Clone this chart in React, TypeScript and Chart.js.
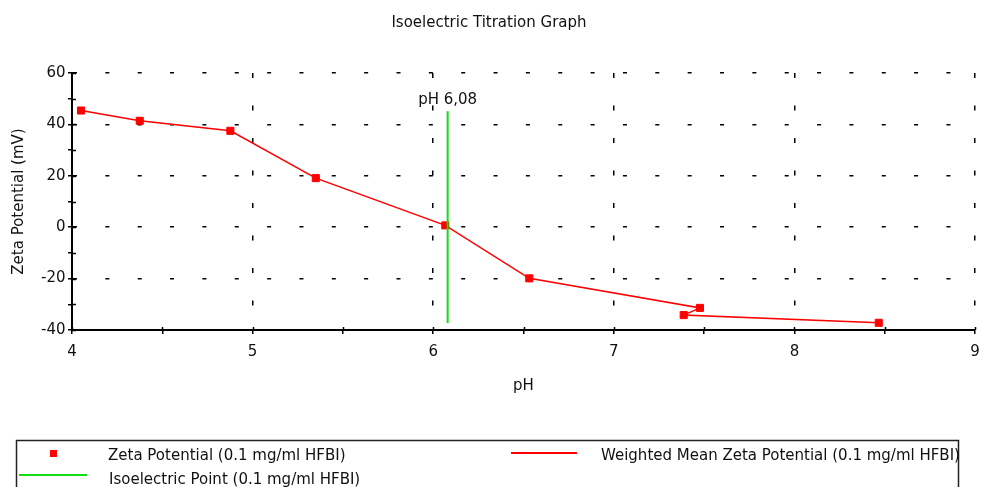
import React, { useEffect, useRef } from 'react';
import { Chart, registerables } from 'chart.js';

Chart.register(...registerables);

const chartTitle = 'Isoelectric Titration Graph';
const xAxisTitle = 'pH';
const yAxisTitle = 'Zeta Potential (mV)';

const pointsLabel = 'Zeta Potential (0.1 mg/ml HFBI)';
const meanLabel = 'Weighted Mean Zeta Potential (0.1 mg/ml HFBI)';
const isoLabel = 'Isoelectric Point (0.1 mg/ml HFBI)';

// measured points (pH, zeta potential mV), in measurement order
const phValues = [4.05, 4.375, 4.877, 5.35, 6.067, 6.532, 7.477, 7.387, 8.467];
const zetaValues = [45.4, 41.4, 37.5, 19.1, 0.7, -19.9, -31.4, -34.2, -37.2];

// isoelectric point marker
const isoelectricPH = 6.08;
const isoelectricText = 'pH 6,08';
const isoelectricSpan = [45.1, -37.3];

const xMin = 4;
const xMax = 9;
const xStep = 0.5;
const yMin = -40;
const yMax = 60;
const yStep = 10;
const yLabelEvery = 20;

const FONT = 'DejaVu Sans';
const RED = '#ff0000';
const GREEN = '#11dd11';
const TEXT = '#111';

const innerTicksPlugin = {
  id: 'innerTicks',
  afterDraw(chart: any) {
    const { ctx, chartArea } = chart;
    const xs = chart.scales.x;
    const ys = chart.scales.y;
    ctx.save();
    ctx.strokeStyle = '#000';
    ctx.lineWidth = 1.5;
    ctx.beginPath();
    xs.ticks.forEach((t: any) => {
      const px = Math.round(xs.getPixelForValue(t.value)) + 0.5;
      ctx.moveTo(px, chartArea.bottom);
      ctx.lineTo(px, chartArea.bottom - 3);
    });
    ys.ticks.forEach((t: any) => {
      const py = Math.round(ys.getPixelForValue(t.value)) + 0.5;
      ctx.moveTo(chartArea.left, py);
      ctx.lineTo(chartArea.left + 4, py);
    });
    ctx.stroke();
    ctx.restore();
  },
};

const isoLabelPlugin = {
  id: 'isoLabel',
  afterDatasetsDraw(chart: any) {
    const { ctx } = chart;
    const x = chart.scales.x.getPixelForValue(isoelectricPH);
    const yTop = chart.scales.y.getPixelForValue(isoelectricSpan[0]);
    ctx.save();
    ctx.font = `15px "${FONT}"`;
    ctx.fillStyle = TEXT;
    ctx.textAlign = 'center';
    ctx.textBaseline = 'alphabetic';
    ctx.fillText(isoelectricText, x, yTop - 7.5);
    ctx.restore();
  },
};

const customLegendPlugin = {
  id: 'customLegend',
  afterDraw(chart: any) {
    const { ctx } = chart;
    const ds = chart.data.datasets;
    const iso = ds[0];
    const pts = ds[1];
    const mean = ds[2];
    ctx.save();
    ctx.strokeStyle = '#222';
    ctx.lineWidth = 1.5;
    ctx.strokeRect(16.5, 440.5, 942, 80);
    ctx.font = `15px "${FONT}"`;
    ctx.fillStyle = TEXT;
    ctx.textAlign = 'left';
    ctx.textBaseline = 'alphabetic';

    // row 1 left: points
    ctx.fillStyle = pts.pointBackgroundColor;
    ctx.fillRect(50, 450, 7, 7);
    ctx.fillStyle = TEXT;
    ctx.fillText(pts.label, 108, 459.5);

    // row 1 right: mean line
    ctx.strokeStyle = mean.borderColor;
    ctx.lineWidth = 2;
    ctx.beginPath();
    ctx.moveTo(511, 453);
    ctx.lineTo(577, 453);
    ctx.stroke();
    ctx.fillText(mean.label, 601, 459.5);

    // row 2 left: isoelectric point
    ctx.strokeStyle = iso.borderColor;
    ctx.lineWidth = 2;
    ctx.beginPath();
    ctx.moveTo(19, 475);
    ctx.lineTo(87, 475);
    ctx.stroke();
    ctx.fillText(iso.label, 109, 484);
    ctx.restore();
  },
};

export default function App() {
  const canvasRef = useRef<HTMLCanvasElement | null>(null);

  useEffect(() => {
    if (!canvasRef.current) return;
    const points = phValues.map((x, i) => ({ x, y: zetaValues[i] }));
    const isoPoints = isoelectricSpan.map((y) => ({ x: isoelectricPH, y }));

    const chart = new Chart(canvasRef.current, {
      type: 'scatter',
      data: {
        datasets: [
          {
            label: isoLabel,
            data: isoPoints,
            showLine: true,
            borderColor: GREEN,
            backgroundColor: GREEN,
            borderWidth: 2,
            pointRadius: 0,
            order: 0,
          },
          {
            label: pointsLabel,
            data: points,
            showLine: false,
            pointStyle: 'rect',
            pointRadius: 5,
            pointBorderWidth: 1,
            pointBackgroundColor: RED,
            pointBorderColor: RED,
            backgroundColor: RED,
            borderColor: RED,
            order: 1,
          },
          {
            label: meanLabel,
            data: points,
            showLine: true,
            borderColor: RED,
            backgroundColor: RED,
            borderWidth: 1.5,
            pointRadius: 0,
            tension: 0,
            order: 2,
          },
        ],
      },
      options: {
        animation: false,
        responsive: true,
        maintainAspectRatio: false,
        layout: { padding: { left: 0, top: 0, right: 3, bottom: 88 } },
        plugins: {
          legend: { display: false },
          tooltip: { enabled: false },
          title: {
            display: true,
            text: chartTitle,
            color: TEXT,
            font: { family: FONT, size: 15, weight: 'normal' },
            padding: { top: 14, bottom: 41 },
          },
        },
        scales: {
          x: {
            type: 'linear',
            min: xMin,
            max: xMax,
            afterFit: (s: any) => {
              s.height = 69;
              s.paddingLeft = 0;
              s.paddingRight = 0;
            },
            ticks: {
              stepSize: xStep,
              autoSkip: false,
              maxRotation: 0,
              padding: 9.5,
              color: TEXT,
              font: { family: FONT, size: 15 },
              callback: (v: any) => (Number.isInteger(v) ? String(v) : ''),
            },
            grid: {
              color: (c: any) => (c.tick && Number.isInteger(c.tick.value) && c.tick.value > xMin ? '#000' : 'rgba(0,0,0,0)'),
              lineWidth: 1.5,
              tickColor: '#000',
              tickWidth: 1.5,
              tickLength: 4,
              drawTicks: true,
            },
            border: { display: true, color: '#000', width: 2, dash: [5, 27.5], dashOffset: 0 },
            title: {
              display: true,
              text: xAxisTitle,
              color: TEXT,
              font: { family: FONT, size: 15 },
              padding: { top: 6, bottom: 4 },
            },
          },
          y: {
            type: 'linear',
            min: yMin,
            max: yMax,
            afterFit: (s: any) => {
              s.width = 72;
            },
            ticks: {
              stepSize: yStep,
              autoSkip: false,
              padding: 2.5,
              color: TEXT,
              font: { family: FONT, size: 15 },
              callback: (v: any) => (v % yLabelEvery === 0 ? String(v) : ''),
            },
            grid: {
              color: (c: any) => (c.tick && c.tick.value % yLabelEvery === 0 && c.tick.value > yMin ? '#000' : 'rgba(0,0,0,0)'),
              lineWidth: 1.5,
              tickColor: '#000',
              tickWidth: 1.5,
              tickLength: 4,
              drawTicks: true,
            },
            border: { display: true, color: '#000', width: 2, dash: [4, 28.35], dashOffset: 0 },
            title: {
              display: true,
              text: yAxisTitle,
              color: TEXT,
              font: { family: FONT, size: 15 },
              padding: { top: 10, bottom: 0 },
            },
          },
        },
      },
      plugins: [innerTicksPlugin, isoLabelPlugin, customLegendPlugin],
    } as any);

    return () => chart.destroy();
  }, []);

  return (
    <div style={{ position: 'fixed', left: 0, top: 0, width: 981, height: 487, background: '#fff' }}>
      <canvas ref={canvasRef} />
    </div>
  );
}
